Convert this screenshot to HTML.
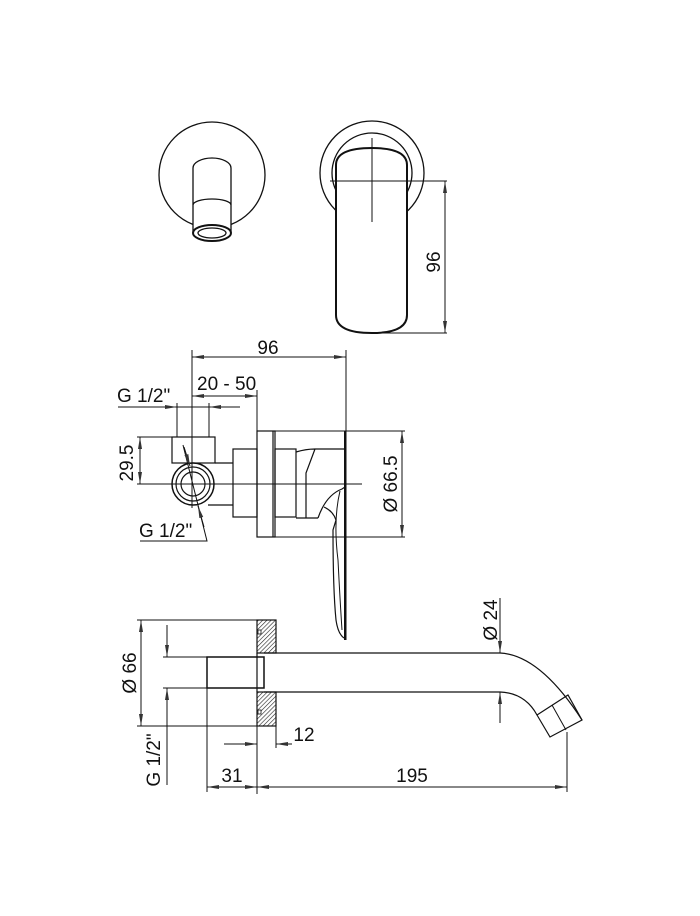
<!DOCTYPE html>
<html><head><meta charset="utf-8"><style>
html,body{margin:0;padding:0;background:#fff;}
svg{display:block}
text{font-family:"Liberation Sans",sans-serif;font-size:19px;fill:#111;}
</style></head><body>
<svg width="700" height="916" viewBox="0 0 700 916" xmlns="http://www.w3.org/2000/svg">
<defs>
<marker id="a" viewBox="0 0 12 6" refX="12" refY="3" markerWidth="12" markerHeight="6" orient="auto-start-reverse" markerUnits="userSpaceOnUse"><path d="M0,1 L12,3 L0,5 Z" fill="#333"/></marker>
<pattern id="h" width="3" height="3" patternUnits="userSpaceOnUse" patternTransform="rotate(45)"><rect width="3" height="3" fill="#fff"/><line x1="0" y1="0" x2="0" y2="3" stroke="#222" stroke-width="1.2"/></pattern>
</defs>
<g fill="none" stroke="#111" stroke-width="1.3">
<!-- top left view -->
<circle cx="212" cy="175" r="53"/>
<path d="M193,233 V168 A19,10 0 0 1 231,168 V233" fill="#fff"/>
<path d="M193,205 A19,6 0 0 1 231,205"/>
<ellipse cx="212" cy="233" rx="19" ry="8" fill="#fff" stroke-width="2"/>
<ellipse cx="212" cy="233" rx="14" ry="5"/>
<!-- top right view -->
<circle cx="372" cy="173" r="52"/>
<circle cx="372" cy="173" r="40"/>
<path d="M336,222 V165 Q336,148 372,148 Q407,148 407,165 V315 Q407,333 372,333 Q336,333 336,315 Z" fill="#fff" stroke-width="2"/>
<line x1="330" y1="181" x2="447" y2="181" stroke-width="1"/>
<line x1="372" y1="138" x2="372" y2="222" stroke-width="1"/>
<line x1="372" y1="333" x2="447" y2="333" stroke-width="1"/>
<line x1="445" y1="181" x2="445" y2="333" stroke-width="1" marker-start="url(#a)" marker-end="url(#a)"/>
</g>
<text transform="translate(440,262) rotate(-90)" text-anchor="middle">96</text>

<g fill="none" stroke="#111" stroke-width="1.2">
<!-- middle view dims -->
<line x1="192" y1="350" x2="192" y2="508" stroke-width="1"/>
<line x1="346" y1="350" x2="346" y2="640" stroke-width="1"/>
<line x1="192" y1="357" x2="346" y2="357" stroke-width="1" marker-start="url(#a)" marker-end="url(#a)"/>
<line x1="192" y1="396" x2="257" y2="396" stroke-width="1" marker-start="url(#a)" marker-end="url(#a)"/>
<line x1="257" y1="390" x2="257" y2="431" stroke-width="1"/>
<line x1="118" y1="407" x2="240" y2="407" stroke-width="1"/>
<line x1="160" y1="407" x2="177" y2="407" stroke-width="1" marker-end="url(#a)"/>
<line x1="226" y1="407" x2="209" y2="407" stroke-width="1" marker-end="url(#a)"/>
<line x1="177" y1="403" x2="177" y2="437" stroke-width="1"/>
<line x1="209" y1="403" x2="209" y2="437" stroke-width="1"/>
<!-- fitting -->
<rect x="172" y="437" width="43" height="26"/>
<path d="M215,463 H233 M233,505 H208"/>
<circle cx="193" cy="484" r="21" stroke-width="1.5"/>
<circle cx="193" cy="484" r="17"/>
<circle cx="193" cy="484" r="12"/>
<rect x="233" y="449" width="24" height="68"/>
<rect x="257" y="431" width="18" height="106"/>
<line x1="273" y1="431" x2="273" y2="537"/>
<rect x="275" y="449" width="21" height="68"/>
<path d="M296,452 Q306,449 315,449 H345 M315,449 L306,473 V518 H296 M306,518 H318"/>
<path d="M318,518 Q326,495 342,489 L345,487 M324,507 Q333,511 336,520 L333,530 Q333,590 336,620 Q338,634 344,638"/>
<path d="M340,491 Q333,520 338,560 Q340,600 342,630" stroke-width="1"/>
<line x1="345" y1="431" x2="345" y2="640" stroke-width="2"/>
<line x1="137" y1="484" x2="362" y2="484" stroke-width="1"/>
<line x1="137" y1="437" x2="180" y2="437" stroke-width="1"/>
<line x1="140" y1="437" x2="140" y2="484" stroke-width="1" marker-start="url(#a)" marker-end="url(#a)"/>
<line x1="275" y1="431" x2="405" y2="431" stroke-width="1"/>
<line x1="275" y1="537" x2="405" y2="537" stroke-width="1"/>
<line x1="402" y1="431" x2="402" y2="537" stroke-width="1" marker-start="url(#a)" marker-end="url(#a)"/>
<path d="M183,445 L207,541 H140" stroke-width="1"/>
<line x1="184" y1="447" x2="190" y2="466" stroke-width="1" marker-end="url(#a)"/>
<line x1="204" y1="527" x2="198" y2="506" stroke-width="1" marker-end="url(#a)"/>
</g>
<text x="268" y="354" text-anchor="middle">96</text>
<text x="197" y="390">20 - 50</text>
<text x="117" y="402">G 1/2"</text>
<text x="139" y="537">G 1/2"</text>
<text transform="translate(133,463) rotate(-90)" text-anchor="middle">29.5</text>
<text transform="translate(397,484) rotate(-90)" text-anchor="middle">Ø 66.5</text>

<!-- bottom view -->
<g fill="none" stroke="#111" stroke-width="1.2">
<rect x="257" y="620" width="19" height="33" fill="url(#h)"/>
<rect x="257" y="692" width="19" height="34" fill="url(#h)"/>
<rect x="258" y="630" width="3" height="4" fill="#fff" stroke-width="0.8"/>
<rect x="258" y="710" width="3" height="4" fill="#fff" stroke-width="0.8"/>
<line x1="257" y1="653" x2="257" y2="692"/>
<rect x="207" y="657" width="57" height="31" stroke-width="1.5"/>
<path d="M264,653 H500 Q540,655 582,720 M264,692 H500 Q525,693 537,715"/>
<path d="M537,715 L568,695 L582,720 L550,737 Z"/>
<line x1="552" y1="705" x2="566" y2="730" stroke-width="1"/>
<line x1="137" y1="620" x2="257" y2="620" stroke-width="1"/>
<line x1="137" y1="726" x2="257" y2="726" stroke-width="1"/>
<line x1="141" y1="620" x2="141" y2="726" stroke-width="1" marker-start="url(#a)" marker-end="url(#a)"/>
<line x1="163" y1="657" x2="207" y2="657" stroke-width="1"/>
<line x1="163" y1="688" x2="207" y2="688" stroke-width="1"/>
<line x1="167" y1="625" x2="167" y2="657" stroke-width="1" marker-end="url(#a)"/>
<line x1="167" y1="785" x2="167" y2="688" stroke-width="1" marker-end="url(#a)"/>
<line x1="500" y1="598" x2="500" y2="653" stroke-width="1" marker-end="url(#a)"/>
<line x1="500" y1="723" x2="500" y2="692" stroke-width="1" marker-end="url(#a)"/>
<line x1="207" y1="688" x2="207" y2="792" stroke-width="1"/>
<line x1="257" y1="726" x2="257" y2="794" stroke-width="1"/>
<line x1="276" y1="726" x2="276" y2="748" stroke-width="1"/>
<line x1="567" y1="732" x2="567" y2="792" stroke-width="1"/>
<line x1="224" y1="744" x2="257" y2="744" stroke-width="1" marker-end="url(#a)"/>
<line x1="292" y1="744" x2="276" y2="744" stroke-width="1" marker-end="url(#a)"/>
<line x1="207" y1="787" x2="257" y2="787" stroke-width="1" marker-start="url(#a)" marker-end="url(#a)"/>
<line x1="257" y1="787" x2="567" y2="787" stroke-width="1" marker-start="url(#a)" marker-end="url(#a)"/>
</g>
<text transform="translate(136,673) rotate(-90)" text-anchor="middle">Ø 66</text>
<text transform="translate(160,760) rotate(-90)" text-anchor="middle">G 1/2"</text>
<text transform="translate(497,620) rotate(-90)" text-anchor="middle">Ø 24</text>
<text x="304" y="741" text-anchor="middle">12</text>
<text x="232" y="782" text-anchor="middle">31</text>
<text x="412" y="782" text-anchor="middle">195</text>
</svg>
</body></html>
